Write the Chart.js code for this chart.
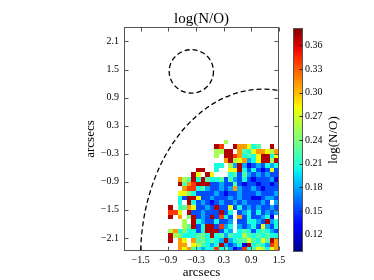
<!DOCTYPE html>
<html><head><meta charset="utf-8">
<script src="https://cdn.jsdelivr.net/npm/chart.js@4/dist/chart.umd.min.js"></script>
<style>
html,body{margin:0;padding:0;background:#fff;}
#wrap{position:relative;width:374px;height:280px;overflow:hidden;}
canvas{position:absolute;left:0;top:0;}
</style></head><body>
<div id="wrap"><canvas id="main" width="374" height="280"></canvas><canvas id="cbar" width="374" height="280"></canvas></div>
<script>
// ---- data ----
const xTickValues = [-1.5, -0.9, -0.3, 0.3, 0.9, 1.5];
const yTickValues = [-2.1, -1.5, -0.9, -0.3, 0.3, 0.9, 1.5, 2.1];
const cbTickValues = [0.12, 0.15, 0.18, 0.21, 0.24, 0.27, 0.30, 0.33, 0.36];
const xCenters = [-0.85,-0.75,-0.65,-0.55,-0.45,-0.35,-0.25,-0.15,-0.05,0.05,0.15,0.25,0.35,0.45,0.55,0.65,0.75,0.85,0.95,1.05,1.15,1.25,1.35,1.45];
const yCenters = [-0.05,-0.15,-0.25,-0.35,-0.45,-0.55,-0.65,-0.75,-0.85,-0.95,-1.05,-1.15,-1.25,-1.35,-1.45,-1.55,-1.65,-1.75,-1.85,-1.95,-2.05,-2.15,-2.25,-2.35];
const logNO = [
[null,null,null,null,null,null,null,null,null,null,null,null,.255,null,null,null,null,null,null,null,null,null,null,null],
[null,null,null,null,null,null,null,null,null,null,.37,.34,null,null,.37,.31,.31,.28,.205,.225,null,null,.37,null],
[null,null,null,null,null,null,null,null,null,null,.255,.255,.37,.37,null,.31,.225,.205,.28,.31,.31,.28,.255,.31],
[null,null,null,null,null,null,null,null,null,null,.255,null,.37,.37,.34,.31,.205,.225,.205,.28,.37,.37,.205,.28],
[null,null,null,null,null,null,null,null,null,null,null,null,.31,.37,.255,.28,.31,.18,.205,.28,.37,.37,.255,.37],
[null,null,null,null,null,null,null,null,null,null,.205,.205,null,.255,.18,.37,.18,.125,.155,.18,.155,.205,.18,.205],
[null,null,null,null,null,null,.37,.37,null,null,.205,null,null,.28,.28,.37,.205,.155,.205,.155,.125,.155,.28,.155],
[null,null,null,null,null,.37,.28,null,.37,.28,null,null,null,.205,.225,.155,.225,.18,.155,.18,.155,.18,.155,.155],
[null,null,.31,.255,.225,.37,.205,.37,.225,.205,.205,.225,.155,.225,.18,.155,.205,.155,.125,.155,.155,.155,.18,.125],
[null,null,.37,.225,.31,.34,.37,.37,.37,.155,.155,.18,.155,.155,.225,.155,.125,.155,.155,.125,.155,.155,.125,.155],
[null,null,null,.31,.34,.34,.205,.225,.18,.155,.155,.18,.155,.18,.31,.18,.155,.155,.18,.155,.125,.155,.155,.155],
[null,null,.28,.28,.24,.205,.155,.155,.155,.155,.18,.155,.125,.155,.155,.18,.155,.155,.155,.18,.155,.155,.155,.18],
[null,null,.205,.155,.37,.37,.28,.155,.155,.18,.155,.155,.155,.18,.155,.18,.155,.155,.125,.125,.155,.18,.18,.155],
[null,null,.205,null,.37,.205,.155,.18,.155,.125,.155,.18,.155,.155,.18,.155,.18,.155,.155,.155,.18,.155,null,.18],
[.37,null,.225,.225,.31,.28,.155,.155,.18,.155,.37,.155,.155,.28,.155,.205,.155,.18,.155,.18,.155,.155,.18,.155],
[.34,.34,.28,null,.37,.155,.155,.18,.155,.155,.155,.37,.155,.205,null,.155,.18,.205,.155,.205,.155,.18,.155,.18],
[.37,null,.31,null,.24,.37,.155,.18,.155,.37,.155,.34,.205,.155,null,.31,.155,.205,.155,.155,.18,.205,.125,null],
[null,null,null,.255,null,.37,.205,.18,.155,.155,.205,.155,.155,.18,null,.155,.155,.205,.205,.18,.155,.37,.18,.205],
[null,null,null,.255,.225,.37,.155,.205,.37,.37,.155,.34,.18,.205,null,.18,.155,.18,.205,.155,.28,.18,.155,.205],
[.255,.31,.205,.24,.205,.205,.155,.205,.37,.37,.37,.155,.205,.18,null,.205,.225,.205,.155,.205,.225,.205,.18,.155],
[.37,.255,.24,.205,.205,.205,.225,.24,.205,.37,.205,.225,.18,.225,.205,.205,.255,.225,.205,.225,.205,.225,.205,.205],
[.37,null,.31,.28,null,.31,.225,.24,.205,.225,.205,.18,.37,.18,.205,.225,.225,.28,.225,.205,.28,.225,.37,.31],
[null,null,.31,.31,null,.28,.255,.225,.205,.18,.205,.37,.18,.155,.18,.205,.125,.37,.205,.225,.205,.18,.34,.31],
[null,null,.31,.28,.31,.225,.205,.18,.205,.205,.34,.205,.225,.18,.125,.155,.34,.205,.225,.28,.255,.205,.28,.31]
];
const cbMin = 0.098, cbMax = 0.382;
const aperture = {cx: -0.40, cy: 1.46, rx: 0.48, ry: 0.465};
const isophote = {cx: 1.15, cy: -2.5, rx: 2.65, ry: 3.58};

// ---- helpers ----
const FONT = "'Liberation Serif', 'Times New Roman', serif";
const FRAME = '#555';
const jetR = [[0,0],[0.35,0],[0.66,1],[0.89,1],[1,0.5]];
const jetG = [[0,0],[0.125,0],[0.375,1],[0.64,1],[0.91,0],[1,0]];
const jetB = [[0,0.5],[0.11,1],[0.34,1],[0.65,0],[1,0]];
function seg(t, pts){
  if (t <= pts[0][0]) return pts[0][1];
  for (let i = 1; i < pts.length; i++) {
    if (t <= pts[i][0]) { const [t0,v0] = pts[i-1], [t1,v1] = pts[i]; return v0 + (v1-v0)*(t-t0)/(t1-t0); }
  }
  return pts[pts.length-1][1];
}
function jet(t){
  t = Math.max(0, Math.min(1, t));
  return 'rgb(' + Math.round(255*seg(t,jetR)) + ',' + Math.round(255*seg(t,jetG)) + ',' + Math.round(255*seg(t,jetB)) + ')';
}
const fmt1 = v => (v < 0 ? '\u2212' : '') + Math.abs(v).toFixed(1);

const cellPoints = [];
logNO.forEach((row, j) => row.forEach((v, k) => { if (v !== null) cellPoints.push({x: xCenters[k], y: yCenters[j], v: v}); }));
const cellW = Math.abs(xCenters[1] - xCenters[0]);
const cellH = Math.abs(yCenters[1] - yCenters[0]);

const heatPlugin = {
  id: 'heat',
  beforeDatasetsDraw(chart){
    const {ctx, chartArea: a, scales: {x, y}} = chart;
    ctx.save();
    ctx.beginPath(); ctx.rect(a.left, a.top, a.right - a.left, a.bottom - a.top); ctx.clip();
    chart.data.datasets[0].data.forEach(p => {
      const x0 = Math.round(x.getPixelForValue(p.x - cellW/2));
      const x1 = Math.round(x.getPixelForValue(p.x + cellW/2));
      const y0 = Math.round(y.getPixelForValue(p.y + cellH/2));
      const y1 = Math.round(y.getPixelForValue(p.y - cellH/2));
      ctx.fillStyle = jet((p.v - cbMin)/(cbMax - cbMin));
      ctx.fillRect(x0, y0, x1 - x0, y1 - y0);
    });
    ctx.restore();
  }
};
function drawEllipse(chart, e){
  const {ctx, scales: {x, y}} = chart;
  const cx = x.getPixelForValue(e.cx), cy = y.getPixelForValue(e.cy);
  const rx = Math.abs(x.getPixelForValue(e.cx + e.rx) - cx);
  const ry = Math.abs(y.getPixelForValue(e.cy + e.ry) - cy);
  ctx.beginPath(); ctx.ellipse(cx, cy, rx, ry, 0, 0, Math.PI*2); ctx.stroke();
}
const overlayPlugin = {
  id: 'overlay',
  afterDatasetsDraw(chart){
    const {ctx, chartArea: a, scales: {x, y}} = chart;
    ctx.save();
    ctx.beginPath(); ctx.rect(a.left, a.top, a.right - a.left, a.bottom - a.top); ctx.clip();
    ctx.strokeStyle = '#000'; ctx.lineWidth = 1.3; ctx.setLineDash([5, 3]);
    drawEllipse(chart, aperture);
    drawEllipse(chart, isophote);
    ctx.restore();
    // frame + inward ticks
    ctx.save();
    ctx.strokeStyle = FRAME; ctx.lineWidth = 1;
    const L = Math.round(a.left) + 0.5, R = Math.round(a.right) - 0.5, T = Math.round(a.top) + 0.5, B = Math.round(a.bottom) - 0.5;
    ctx.strokeRect(L, T, R - L, B - T);
    ctx.beginPath();
    x.ticks.forEach(t => { const px = Math.round(x.getPixelForValue(t.value)) + 0.5; ctx.moveTo(px, B); ctx.lineTo(px, B - 4); ctx.moveTo(px, T); ctx.lineTo(px, T + 4); });
    y.ticks.forEach(t => { const py = Math.round(y.getPixelForValue(t.value)) + 0.5; ctx.moveTo(L, py); ctx.lineTo(L + 4, py); ctx.moveTo(R, py); ctx.lineTo(R - 4, py); });
    ctx.stroke();
    ctx.restore();
  }
};

new Chart(document.getElementById('main'), {
  type: 'scatter',
  data: { datasets: [{ label: 'log(N/O)', data: cellPoints, pointRadius: 0, pointHoverRadius: 0 }] },
  options: {
    responsive: false, animation: false, events: [],
    layout: { padding: { left: 0, right: 95, top: 0, bottom: 0 } },
    plugins: {
      legend: { display: false }, tooltip: { enabled: false },
      title: { display: true, text: 'log(N/O)', fullSize: false, color: '#000',
        font: { family: FONT, size: 15, weight: 'normal', lineHeight: 1 }, padding: { top: 12, bottom: 0 } }
    },
    scales: {
      x: { type: 'linear', min: -1.86, max: 1.5,
        afterBuildTicks: s => { s.ticks = xTickValues.map(v => ({ value: v })); },
        afterFit: s => { s.height = 29; },
        grid: { display: false, drawTicks: false }, border: { display: false },
        ticks: { padding: 3, color: '#000', autoSkip: false, maxRotation: 0, font: { family: FONT, size: 10 }, callback: v => fmt1(v) },
        title: { display: true, text: 'arcsecs', color: '#000', font: { family: FONT, size: 13, lineHeight: 1 }, padding: { top: 0, bottom: 1 } } },
      y: { type: 'linear', min: -2.38, max: 2.41,
        afterBuildTicks: s => { s.ticks = yTickValues.map(v => ({ value: v })); },
        afterFit: s => { s.width = 124; },
        grid: { display: false, drawTicks: false }, border: { display: false },
        ticks: { padding: 5, color: '#000', autoSkip: false, font: { family: FONT, size: 10 }, callback: v => fmt1(v) },
        title: { display: true, text: 'arcsecs', color: '#000', font: { family: FONT, size: 13, lineHeight: 1.2 }, padding: { top: 83, bottom: 0 } } }
    }
  },
  plugins: [heatPlugin, overlayPlugin]
});

const cbPlugin = {
  id: 'cbfill',
  beforeDatasetsDraw(chart){
    const {ctx, chartArea: a} = chart;
    const g = ctx.createLinearGradient(0, a.bottom, 0, a.top);
    for (let i = 0; i <= 50; i++) g.addColorStop(i/50, jet(i/50));
    ctx.save();
    ctx.fillStyle = g;
    ctx.fillRect(a.left, a.top, a.right - a.left, a.bottom - a.top);
    ctx.strokeStyle = FRAME; ctx.lineWidth = 1;
    const L = Math.round(a.left) + 0.5, R = Math.round(a.right) - 0.5, T = Math.round(a.top) + 0.5, B = Math.round(a.bottom) - 0.5;
    ctx.strokeRect(L, T, R - L, B - T);
    const ys = chart.scales.y;
    ctx.strokeStyle = '#222';
    ctx.beginPath();
    ys.ticks.forEach(t => { const py = Math.round(ys.getPixelForValue(t.value)) + 0.5; ctx.moveTo(R, py); ctx.lineTo(R - 3, py); });
    ctx.stroke();
    ctx.translate(334, 140);
    ctx.rotate(-Math.PI/2);
    ctx.fillStyle = '#000';
    ctx.font = "13px " + FONT;
    ctx.textAlign = 'center'; ctx.textBaseline = 'middle';
    ctx.fillText('log(N/O)', 0, 0);
    ctx.restore();
  }
};
new Chart(document.getElementById('cbar'), {
  type: 'scatter',
  data: { datasets: [{ label: 'colorbar', data: [], pointRadius: 0 }] },
  options: {
    responsive: false, animation: false, events: [],
    layout: { padding: { left: 293, right: 0, top: 28, bottom: 28 } },
    plugins: { legend: { display: false }, tooltip: { enabled: false } },
    scales: {
      x: { display: false, min: 0, max: 1 },
      y: { position: 'right', min: cbMin, max: cbMax,
        afterBuildTicks: s => { s.ticks = cbTickValues.map(v => ({ value: v })); },
        afterFit: s => { s.width = 71; },
        grid: { display: false, drawTicks: false }, border: { display: false },
        ticks: { padding: 2, color: '#000', autoSkip: false, font: { family: FONT, size: 10 }, callback: v => v.toFixed(2) } }
    }
  },
  plugins: [cbPlugin]
});
</script></body></html>
